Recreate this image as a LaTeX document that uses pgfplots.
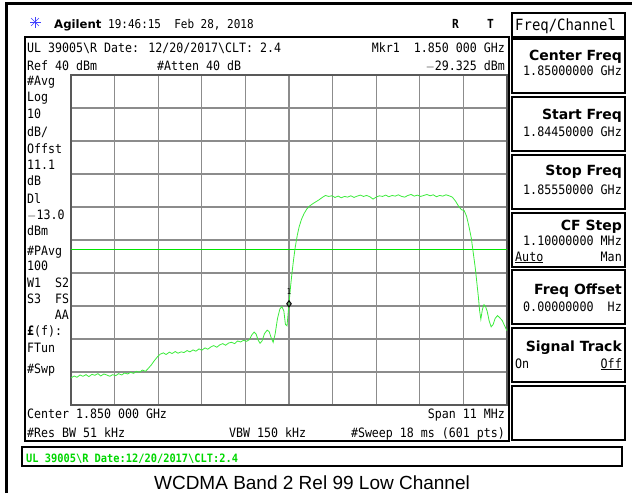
\documentclass[border=0pt]{standalone}
\usepackage{fontspec}
\usepackage{pgfplots}
\pgfplotsset{compat=1.18}
\setmainfont{Liberation Sans}
\newfontfamily\mono[FakeStretch=0.9]{DejaVu Sans Mono}
\newfontfamily\keyfont{DejaVu Sans}
\definecolor{trace}{RGB}{60,235,60}
\definecolor{dline}{RGB}{0,230,0}
\definecolor{stat}{RGB}{0,215,0}
\newcommand\ms{\mono\fontsize{12.9}{13}\selectfont}
\newcommand\vs{\mono\fontsize{13}{13}\selectfont}
\newcommand\ks{\keyfont\bfseries\fontsize{14}{14}\selectfont}
\begin{document}
\begin{tikzpicture}
\path[use as bounding box] (0pt,0pt) rectangle (632pt,-493pt);
% trace graticule
\begin{axis}[
  at={(71pt,-405pt)}, anchor=south west,
  scale only axis, width=436pt, height=330pt,
  xmin=-5.5, xmax=5.5, ymin=-60, ymax=40,
  xtick={-5.5,-4.4,-3.3,-2.2,-1.1,0,1.1,2.2,3.3,4.4,5.5},
  ytick={-60,-50,...,40},
  xticklabels={}, yticklabels={},
  major tick length=0pt,
  grid=major,
  major grid style={gray!90, line width=1.1pt},
  axis line style={black!65, line width=1.3pt},
]
% display line -13 dBm
\addplot[dline, line width=1pt] coordinates {(-5.5,-13) (5.5,-13)};
% averaged trace, MHz offset from 1.850 GHz vs dBm
\addplot[trace, line width=0.8pt] coordinates {
(-5.50,-51.8) (-5.42,-51.2) (-5.35,-51.6) (-5.27,-50.9) (-5.20,-51.3) (-5.12,-50.8)
(-5.05,-51.4) (-4.97,-50.7) (-4.90,-51.0) (-4.82,-50.5) (-4.75,-51.2) (-4.67,-50.6)
(-4.60,-50.9) (-4.52,-51.3) (-4.45,-50.8) (-4.37,-51.1) (-4.30,-50.5) (-4.22,-50.9)
(-4.15,-50.3) (-4.07,-50.6) (-4.00,-50.1) (-3.92,-50.4) (-3.85,-49.8) (-3.77,-50.1)
(-3.70,-49.4) (-3.62,-49.8) (-3.55,-48.9) (-3.47,-47.8) (-3.40,-46.6) (-3.32,-45.4)
(-3.25,-44.6) (-3.17,-44.2) (-3.10,-44.7) (-3.02,-44.0) (-2.95,-44.4) (-2.87,-43.8)
(-2.80,-44.3) (-2.72,-43.9) (-2.65,-44.1) (-2.57,-43.5) (-2.50,-43.9) (-2.42,-43.3)
(-2.35,-43.7) (-2.27,-43.0) (-2.20,-43.4) (-2.12,-42.7) (-2.05,-43.1) (-1.97,-42.4)
(-1.90,-42.0) (-1.82,-42.5) (-1.75,-41.8) (-1.67,-41.4) (-1.60,-41.9) (-1.52,-41.2)
(-1.45,-41.0) (-1.37,-41.4) (-1.30,-40.6) (-1.22,-40.9) (-1.15,-40.4) (-1.07,-40.7)
(-1.00,-40.2) (-0.94,-38.8) (-0.88,-37.9) (-0.83,-38.5) (-0.78,-40.3) (-0.73,-41.3)
(-0.68,-40.6) (-0.62,-38.4) (-0.55,-37.3) (-0.50,-37.8) (-0.45,-39.6) (-0.40,-41.0)
(-0.35,-38.5) (-0.29,-33.8) (-0.23,-30.9) (-0.18,-30.2) (-0.13,-31.5) (-0.09,-35.6)
(-0.05,-36.0) (-0.02,-32.0) (0.00,-29.3) (0.04,-24.0) (0.08,-19.5) (0.12,-15.5)
(0.16,-12.0) (0.21,-8.5) (0.26,-5.8) (0.32,-3.6) (0.38,-2.0) (0.45,-0.6)
(0.52,0.3) (0.60,1.0) (0.68,1.6) (0.76,2.2) (0.84,2.9) (0.92,3.5) (1.00,3.2)
(1.08,3.4) (1.16,2.9) (1.24,3.3) (1.32,2.8) (1.40,3.2) (1.48,3.0) (1.56,3.4)
(1.64,2.9) (1.72,3.3) (1.80,3.6) (1.88,3.2) (1.96,3.5) (2.04,3.1) (2.12,2.4)
(2.20,3.0) (2.28,3.4) (2.36,3.2) (2.44,3.6) (2.52,3.1) (2.60,3.5) (2.68,3.3)
(2.76,3.7) (2.84,3.2) (2.92,3.0) (3.00,3.5) (3.08,3.8) (3.16,3.3) (3.24,3.6)
(3.32,3.2) (3.40,3.5) (3.48,3.8) (3.56,3.4) (3.64,3.7) (3.72,3.1) (3.80,3.5)
(3.88,3.3) (3.96,3.7) (4.04,3.4) (4.12,3.0) (4.20,1.8) (4.28,0.2) (4.35,-0.8)
(4.42,-1.1) (4.48,-2.8) (4.54,-5.9) (4.60,-9.5) (4.65,-14.0) (4.70,-18.5)
(4.74,-23.0) (4.78,-27.5) (4.81,-31.5) (4.84,-34.0) (4.88,-31.0) (4.92,-29.6)
(4.96,-30.2) (5.00,-31.6) (5.05,-34.5) (5.10,-36.3) (5.15,-35.6) (5.20,-33.8)
(5.26,-32.9) (5.32,-33.6) (5.38,-34.4) (5.44,-36.0) (5.50,-37.5)
};
% marker 1
\addplot[black, only marks, mark=diamond, mark size=3pt, mark options={line width=1pt}]
  coordinates {(0,-29.325)};
\node[font=\mono\fontsize{8}{8}\selectfont, anchor=south, inner sep=0pt] at (axis cs:0,-26.7) {1};
\end{axis}
\begin{scope}[x=1pt,y=-1pt,
  t/.style={inner sep=0pt,anchor=base west,font=\ms},
  tr/.style={inner sep=0pt,anchor=base east,font=\ms},
  key/.style={draw=black,line width=1.6pt}]
% outer frame of the screen shot
\draw[line width=3pt] (6,493) -- (6,3) -- (632,3);
% header
\foreach \a in {0,45,...,315} \draw[blue!75,line width=0.7pt] (35,22) -- ++(\a:5.5);
\node[inner sep=0pt,anchor=base west,font=\keyfont\bfseries\fontsize{11.7}{12}\selectfont] at (54,28) {Agilent};
\node[inner sep=0pt,anchor=base west,font=\mono\fontsize{12.2}{12}\selectfont] at (108,28) {19:46:15\ \ Feb 28, 2018};
\node[inner sep=0pt,anchor=base west,font=\mono\bfseries\fontsize{12.5}{12}\selectfont] at (452,28) {R};
\node[inner sep=0pt,anchor=base west,font=\mono\bfseries\fontsize{12.5}{12}\selectfont] at (487,28) {T};
% main display box
\draw[line width=1.3pt] (25,37) rectangle (509,441);
\node[t] at (27,52) {UL 39005\textbackslash R Date: 12/20/2017\textbackslash CLT: 2.4};
\node[t] at (27,70) {Ref 40 dBm};
\node[t] at (157,70) {\#Atten 40 dB};
\node[tr] at (505,52) {Mkr1\ \ 1.850 000 GHz};
\node[tr] at (505,70) {$-$29.325 dBm};
% left annotation column
\node[t] at (27,85) {\#Avg};
\node[t] at (27,101) {Log};
\node[t] at (27,118) {10};
\node[t] at (27,136) {dB/};
\node[t] at (27,153) {Offst};
\node[t] at (27,169) {11.1};
\node[t] at (27,185) {dB};
\node[t] at (27,203) {Dl};
\node[t] at (27,219) {$-$13.0};
\node[t] at (27,235) {dBm};
\node[t] at (27,255) {\#PAvg};
\node[t] at (27,270) {100};
\node[t] at (27,287) {W1\ \ S2};
\node[t] at (27,303) {S3\ \ FS};
\node[tr] at (69,319) {AA};
\node[t] at (27,335) {\textbf{£}(f):};
\node[t] at (27,352) {FTun};
\node[t] at (27,373) {\#Swp};
% bottom annotations
\node[t] at (27,418) {Center 1.850 000 GHz};
\node[tr] at (505,418) {Span 11 MHz};
\node[t] at (27,437) {\#Res BW 51 kHz};
\node[t] at (229,437) {VBW 150 kHz};
\node[tr] at (505,437) {\#Sweep 18 ms (601 pts)};
% status bar
\draw[line width=1.3pt] (22,447) rectangle (622,466);
\node[inner sep=0pt,anchor=base west,text=stat,font=\mono\bfseries\fontsize{11.5}{12}\selectfont] at (26,462)
  {UL 39005\textbackslash R Date:12/20/2017\textbackslash CLT:2.4};
% caption
\node[inner sep=0pt,anchor=base,font=\fontsize{19}{19}\selectfont] at (312,489) {WCDMA Band 2 Rel 99 Low Channel};
% soft keys
\draw[key] (512,13) rectangle (625,37);
\node[inner sep=0pt,anchor=base west,font=\mono\fontsize{15.5}{16}\selectfont] at (515,30) {Freq/Channel};
\draw[key] (512,39) rectangle (625,93);
\node[inner sep=0pt,anchor=base east,font=\ks] at (622,60) {Center Freq};
\node[inner sep=0pt,anchor=base east,font=\vs] at (622,75) {1.85000000 GHz};
\draw[key] (512,97) rectangle (625,151);
\node[inner sep=0pt,anchor=base east,font=\ks] at (622,119) {Start Freq};
\node[inner sep=0pt,anchor=base east,font=\vs] at (622,136) {1.84450000 GHz};
\draw[key] (512,155) rectangle (625,209);
\node[inner sep=0pt,anchor=base east,font=\ks] at (622,175) {Stop Freq};
\node[inner sep=0pt,anchor=base east,font=\vs] at (622,194) {1.85550000 GHz};
\draw[key] (512,213) rectangle (625,267);
\node[inner sep=0pt,anchor=base east,font=\ks] at (622,230) {CF Step};
\node[inner sep=0pt,anchor=base east,font=\vs] at (622,245) {1.10000000 MHz};
\node[inner sep=0pt,anchor=base west,font=\vs] at (515,261) {\underline{Auto}};
\node[inner sep=0pt,anchor=base east,font=\vs] at (622,261) {Man};
\draw[key] (512,270) rectangle (625,324);
\node[inner sep=0pt,anchor=base east,font=\ks] at (622,294) {Freq Offset};
\node[inner sep=0pt,anchor=base east,font=\vs] at (622,311) {0.00000000\ \ Hz};
\draw[key] (512,328) rectangle (625,382);
\node[inner sep=0pt,anchor=base east,font=\ks] at (622,351) {Signal Track};
\node[inner sep=0pt,anchor=base west,font=\vs] at (515,368) {On};
\node[inner sep=0pt,anchor=base east,font=\vs] at (622,368) {\underline{Off}};
\draw[key] (512,386) rectangle (625,440);
\end{scope}
\end{tikzpicture}
\end{document}
